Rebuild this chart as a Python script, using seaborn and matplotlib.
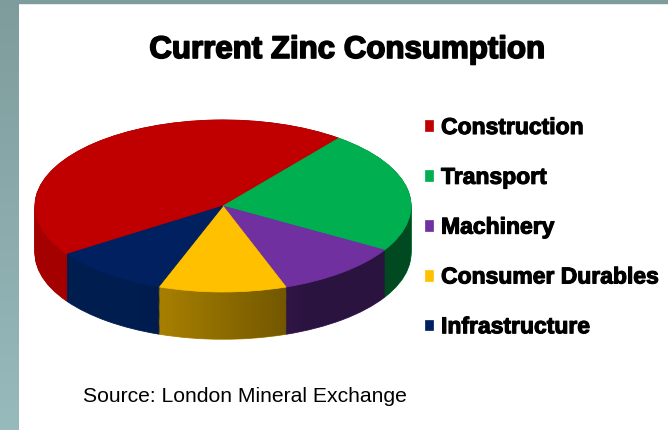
import numpy as np
import matplotlib.pyplot as plt
import matplotlib.patheffects as pe
import seaborn as sns
from matplotlib.path import Path
from matplotlib.patches import PathPatch, Rectangle
from matplotlib.colors import LinearSegmentedColormap

sectors = ["Construction", "Transport", "Machinery", "Consumer Durables", "Infrastructure"]
shares = [45, 23, 11, 11, 10]
top_colors = ["#C00000", "#00B050", "#7030A0", "#FFC000", "#002060"]
side_colors = ["#A40000", "#007A38", "#48216A", "#B08600", "#001D50"]

title = "Current Zinc Consumption"
source = "Source: London Mineral Exchange"

W, H = 668, 430
sns.set_style("white")
plt.rcParams["font.family"] = ["Liberation Sans", "DejaVu Sans"]
plt.rcParams["text.color"] = "black"

fig = plt.figure(figsize=(W / 100, H / 100), dpi=100)
fig.patch.set_facecolor("white")

# slide frame on the left and top
frame = fig.add_axes([0, 0, 19 / W, 1])
frame_cmap = LinearSegmentedColormap.from_list("frame", ["#7F9C9C", "#97BABC"])
frame.imshow(np.linspace(0, 1, 200).reshape(-1, 1), aspect="auto", cmap=frame_cmap,
             extent=(0, 1, 0, 1), origin="upper")
frame.axis("off")
fig.add_artist(Rectangle((0, 1 - 3 / H), 1, 3 / H, transform=fig.transFigure,
                         color="#7F9C9C", zorder=0))

# pie axes: x and y scaled differently to give the tilted look
rx, ry = 188, 86
cx, cy = 223, 206
depth = 0.55
x0, x1 = -1.05, 1.05
y0, y1 = -1 - depth - 0.05, 1.05
ax = fig.add_axes([(cx + x0 * rx) / W, (H - cy + y0 * ry) / H,
                   (x1 - x0) * rx / W, (y1 - y0) * ry / H])

# side walls: stack of darker pies
for t in np.linspace(depth, 0, 45):
    side, _ = ax.pie(shares, colors=side_colors, startangle=214, counterclock=False,
                     center=(0, -t), radius=1, wedgeprops=dict(linewidth=0.6))
    for w in side:
        w.set_edgecolor(w.get_facecolor())

# light-to-dark shading across the wall
xs = np.linspace(-1, 1, 300)
rim = -np.sqrt(1 - xs ** 2)
band = np.concatenate([np.column_stack([xs, rim]),
                       np.column_stack([xs[::-1], rim[::-1] - depth])])
clip = PathPatch(Path(band), transform=ax.transData, facecolor="none", edgecolor="none")
ax.add_patch(clip)
shade_cmap = LinearSegmentedColormap.from_list("shade", [(0, 0, 0, 0), (0, 0, 0, 1)])
shade = np.clip((xs + 0.45) / 0.9, 0, 1) * 0.4
img = ax.imshow(shade[None, :], extent=(-1, 1, -1 - depth, 0), cmap=shade_cmap,
                vmin=0, vmax=1, aspect="auto", zorder=2)
img.set_clip_path(clip)

# top face
wedges, _ = ax.pie(shares, colors=top_colors, startangle=214, counterclock=False,
                   wedgeprops=dict(linewidth=0.5))
for w in wedges:
    w.set_edgecolor(w.get_facecolor())
    w.set_zorder(3)

ax.set_xlim(x0, x1)
ax.set_ylim(y0, y1)
ax.set_aspect("auto")
ax.axis("off")

heavy = [pe.withStroke(linewidth=1.2, foreground="black")]
fig.text(347 / W, 1 - 50 / H, title, ha="center", va="center",
         fontsize=22.5, fontweight="bold", path_effects=heavy)
fig.text(83 / W, 1 - 397 / H, source, ha="left", va="center", fontsize=15.2)

leg = fig.legend(wedges, sectors, loc="upper left", bbox_to_anchor=(425 / W, 1 - 116 / H),
                 frameon=False, prop=dict(weight="bold", size=16.5),
                 handlelength=0.35, handleheight=0.35, handletextpad=0.35,
                 labelspacing=1.17, borderpad=0, borderaxespad=0)
for txt in leg.get_texts():
    txt.set_path_effects([pe.withStroke(linewidth=0.8, foreground="black")])

fig.savefig("out.png", dpi=100, facecolor="white")
